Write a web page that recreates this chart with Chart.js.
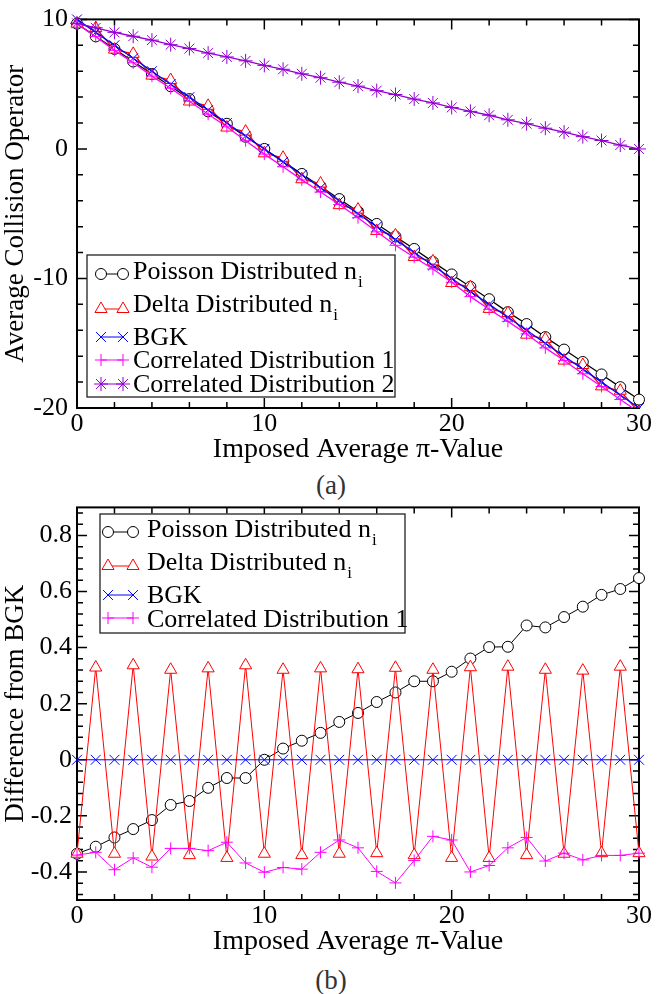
<!DOCTYPE html>
<html>
<head>
<meta charset="utf-8">
<script src="https://cdn.jsdelivr.net/npm/chart.js@4.4.1/dist/chart.umd.min.js"></script>
<style>
  html, body { margin: 0; padding: 0; background: #fff; }
  body { width: 658px; height: 994px; position: relative; overflow: hidden; font-family: "Liberation Serif", serif; }
  canvas { position: absolute; left: 0; }
  #chartA { top: 0; }
  #chartB { top: 492px; }
  .cap { position: absolute; left: 2px; width: 658px; text-align: center; font-size: 27px; line-height: 30px; color: #333; }
</style>
</head>
<body>
<canvas id="chartA" width="658" height="470"></canvas>
<div class="cap" style="top:470px">(a)</div>
<canvas id="chartB" width="658" height="470"></canvas>
<div class="cap" style="top:965px">(b)</div>
<script>
// x positions: imposed average pi-value
const piValues = [0, 1, 2, 3, 4, 5, 6, 7, 8, 9, 10, 11, 12, 13, 14, 15, 16, 17, 18, 19, 20, 21, 22, 23, 24, 25, 26, 27, 28, 29, 30];

// tick labels
const xTicks = [0, 10, 20, 30];
const yTicksA = [-20, -10, 0, 10];
const yTicksB = [-0.4, -0.2, 0, 0.2, 0.4, 0.6, 0.8];

// series names
const seriesNames = ['Poisson Distributed n', 'Delta Distributed n', 'BGK', 'Correlated Distribution 1', 'Correlated Distribution 2'];
const seriesSubs = ['i', 'i', '', '', ''];

// (a) average collision operator
const poissonA = [9.67, 8.69, 7.72, 6.75, 5.79, 4.84, 3.85, 2.90, 1.94, 0.94, 0.00, -0.96, -1.93, -2.90, -3.87, -4.83, -5.79, -6.76, -7.72, -8.72, -9.69, -10.64, -11.60, -12.60, -13.52, -14.53, -15.49, -16.45, -17.41, -18.39, -19.35];
const deltaA = [9.67, 9.33, 7.67, 7.34, 5.66, 5.32, 3.66, 3.33, 1.65, 1.34, -0.34, -0.68, -2.34, -2.67, -4.34, -4.68, -6.33, -6.67, -8.34, -8.68, -10.35, -10.67, -12.35, -12.67, -14.34, -14.68, -16.34, -16.68, -18.33, -18.67, -20.33];
const bgkA = [10, 9, 8, 7, 6, 5, 4, 3, 2, 1, 0, -1, -2, -3, -4, -5, -6, -7, -8, -9, -10, -11, -12, -13, -14, -15, -16, -17, -18, -19, -20];
const corr1A = [9.66, 8.67, 7.61, 6.65, 5.62, 4.68, 3.68, 2.68, 1.71, 0.63, -0.40, -1.38, -2.39, -3.33, -4.29, -5.31, -6.40, -7.44, -8.36, -9.27, -10.29, -11.40, -12.38, -13.31, -14.28, -15.36, -16.33, -17.36, -18.34, -19.34, -20.33];
const corr2A = [9.70, 9.35, 9.00, 8.70, 8.40, 8.05, 7.75, 7.40, 7.10, 6.80, 6.45, 6.15, 5.80, 5.50, 5.15, 4.85, 4.50, 4.20, 3.85, 3.55, 3.20, 2.90, 2.60, 2.25, 1.95, 1.60, 1.30, 0.95, 0.65, 0.30, 0.00];

// (b) difference from BGK
const poissonB = [-0.335, -0.31, -0.277, -0.247, -0.215, -0.161, -0.147, -0.10, -0.065, -0.065, 0, 0.04, 0.068, 0.096, 0.135, 0.167, 0.206, 0.24, 0.28, 0.28, 0.314, 0.361, 0.402, 0.403, 0.479, 0.472, 0.509, 0.546, 0.588, 0.609, 0.648];
const deltaB = [-0.335, 0.329, -0.335, 0.337, -0.345, 0.321, -0.34, 0.326, -0.35, 0.337, -0.335, 0.321, -0.34, 0.326, -0.335, 0.323, -0.333, 0.328, -0.34, 0.321, -0.35, 0.33, -0.35, 0.332, -0.34, 0.321, -0.335, 0.318, -0.333, 0.332, -0.333];
const bgkB = [0, 0, 0, 0, 0, 0, 0, 0, 0, 0, 0, 0, 0, 0, 0, 0, 0, 0, 0, 0, 0, 0, 0, 0, 0, 0, 0, 0, 0, 0, 0];
const corr1B = [-0.34, -0.33, -0.392, -0.35, -0.383, -0.316, -0.316, -0.324, -0.294, -0.368, -0.401, -0.384, -0.39, -0.33, -0.286, -0.314, -0.398, -0.439, -0.359, -0.273, -0.286, -0.40, -0.377, -0.314, -0.277, -0.361, -0.333, -0.357, -0.341, -0.341, -0.333];

// marker / colour per series (xmgrace defaults)
const styles = [
    { color: '#000000', point: 'circle', r: 5.5, fill: '#ffffff' },
    { color: '#ff0000', point: 'triangle', r: 7, fill: '#ffffff' },
    { color: '#0000ff', point: 'crossRot', r: 7, fill: 'rgba(0,0,0,0)' },
    { color: '#ff00ff', point: 'cross', r: 6, fill: 'rgba(0,0,0,0)' },
    { color: '#9400d3', point: 'star', r: 7, fill: 'rgba(0,0,0,0)' }
];

Chart.defaults.font.family = '"Liberation Serif", "Times New Roman", serif';
Chart.defaults.color = '#000';

// frame + inward ticks on all four sides
const frameTicks = {
    id: 'frameTicks',
    beforeDatasetsDraw(chart, args, o) {
        const { ctx, chartArea: a, scales: { x, y } } = chart;
        ctx.save();
        ctx.strokeStyle = '#000';
        ctx.lineWidth = 2;
        ctx.strokeRect(a.left, a.top, a.right - a.left, a.bottom - a.top);
        ctx.lineWidth = 1.5;
        ctx.beginPath();
        const xt = (v, len) => {
            const px = x.getPixelForValue(v);
            ctx.moveTo(px, a.bottom); ctx.lineTo(px, a.bottom - len);
            ctx.moveTo(px, a.top); ctx.lineTo(px, a.top + len);
        };
        const yt = (v, len) => {
            const py = y.getPixelForValue(v);
            ctx.moveTo(a.left, py); ctx.lineTo(a.left + len, py);
            ctx.moveTo(a.right, py); ctx.lineTo(a.right - len, py);
        };
        o.xMajor.forEach(v => xt(v, 10));
        o.xMinor.forEach(v => xt(v, 6));
        o.yMajor.forEach(v => yt(v, 10));
        o.yMinor.forEach(v => yt(v, 6));
        ctx.stroke();
        ctx.restore();
    }
};

// boxed legend with subscripts, like the xmgrace one
const boxLegend = {
    id: 'boxLegend',
    afterDatasetsDraw(chart, args, o) {
        const ctx = chart.ctx;
        const [bx, by, bw, bh] = o.box;
        ctx.save();
        ctx.fillStyle = '#fff';
        ctx.fillRect(bx, by, bw, bh);
        ctx.strokeStyle = '#222';
        ctx.lineWidth = 1.3;
        ctx.strokeRect(bx, by, bw, bh);
        chart.data.datasets.forEach((ds, i) => {
            const base = o.rows[i];
            const my = o.marks[i];
            ctx.strokeStyle = ds.borderColor;
            ctx.lineWidth = 1;
            ctx.beginPath();
            ctx.moveTo(o.sample[0], my);
            ctx.lineTo(o.sample[1], my);
            ctx.stroke();
            o.sample.forEach(sx => {
                ctx.fillStyle = ds.pointBackgroundColor;
                ctx.strokeStyle = ds.pointBorderColor;
                ctx.lineWidth = 1;
                Chart.helpers.drawPoint(ctx, { pointStyle: ds.pointStyle, radius: ds.pointRadius, rotation: 0, borderWidth: 1 }, sx, my);
            });
            ctx.fillStyle = '#000';
            ctx.textBaseline = 'alphabetic';
            ctx.font = '26px "Liberation Serif"';
            ctx.fillText(ds.label, o.textX, base);
            if (seriesSubs[i]) {
                const w = ctx.measureText(ds.label).width;
                ctx.font = '17px "Liberation Serif"';
                ctx.fillText(seriesSubs[i], o.textX + w + 1, base + 8);
            }
        });
        ctx.restore();
    }
};

function minorList(from, to, step, majors) {
    const out = [];
    for (let k = 0; from + k * step <= to + 1e-9; k++) {
        const v = Math.round((from + k * step) * 1000) / 1000;
        if (!majors.some(m => Math.abs(m - v) < 1e-9)) out.push(v);
    }
    return out;
}

function buildChart(id, series, yMin, yMax, yTicks, yMinor, yTitle, yPad, lineW, clip, legend) {
    const datasets = series.map((vals, i) => ({
        label: seriesNames[i],
        data: piValues.map((x, k) => ({ x: x, y: vals[k] })),
        borderColor: styles[i].color,
        borderWidth: lineW,
        pointStyle: styles[i].point,
        pointRadius: styles[i].r,
        pointBorderColor: styles[i].color,
        pointBackgroundColor: styles[i].fill,
        pointBorderWidth: 1,
        tension: 0,
        clip: clip,
        order: series.length - i
    }));
    return new Chart(document.getElementById(id), {
        type: 'line',
        data: { datasets },
        options: {
            responsive: false,
            animation: false,
            devicePixelRatio: 1,
            layout: { padding: { top: 11, right: 13, left: 0, bottom: 0 } },
            plugins: {
                legend: { display: false },
                tooltip: { enabled: false },
                frameTicks: {
                    xMajor: xTicks, xMinor: minorList(0, 30, 2, xTicks),
                    yMajor: yTicks, yMinor: yMinor
                },
                boxLegend: legend
            },
            scales: {
                x: {
                    type: 'linear', min: 0, max: 30,
                    afterBuildTicks: s => { s.ticks = xTicks.map(v => ({ value: v })); },
                    afterFit: s => { s.height = 62; },
                    grid: { display: false, drawTicks: false },
                    border: { display: false },
                    ticks: { font: { size: 26, lineHeight: 0.8 }, padding: 6, maxRotation: 0, autoSkip: false, callback: v => String(v) },
                    title: { display: true, text: 'Imposed Average π-Value', font: { size: 28 }, padding: { top: 0, bottom: 4 } }
                },
                y: {
                    type: 'linear', min: yMin, max: yMax,
                    afterBuildTicks: s => { s.ticks = yTicks.map(v => ({ value: v })); },
                    afterFit: s => { s.width = 77; },
                    grid: { display: false, drawTicks: false },
                    border: { display: false },
                    ticks: { font: { size: 26, lineHeight: 0.8 }, padding: yPad, autoSkip: false, callback: v => String(Math.round(v * 100) / 100) },
                    title: { display: true, text: yTitle, font: { size: 27 }, padding: { top: 0, bottom: 0 } }
                }
            }
        },
        plugins: [frameTicks, boxLegend]
    });
}

buildChart('chartA', [poissonA, deltaA, bgkA, corr1A, corr2A], -20, 10, yTicksA,
    minorList(-20, 10, 2, yTicksA), 'Average Collision Operator', 9, 1.3,
    { left: 10, top: 10, right: 10, bottom: 0 },
    { box: [87, 255, 308, 142], rows: [279, 312, 345, 368, 392], marks: [274, 309, 337, 360, 384], sample: [101, 123], textX: 133 });

buildChart('chartB', [poissonB, deltaB, bgkB, corr1B], -0.5, 0.9, yTicksB,
    minorList(-0.48, 0.88, 0.04, yTicksB), 'Difference from BGK', 5, 1,
    { left: 10, top: 10, right: 10, bottom: 10 },
    { box: [100, 22, 305, 119], rows: [45, 78, 111, 135], marks: [40, 74, 103, 126], sample: [108, 133], textX: 147 });
</script>
</body>
</html>
